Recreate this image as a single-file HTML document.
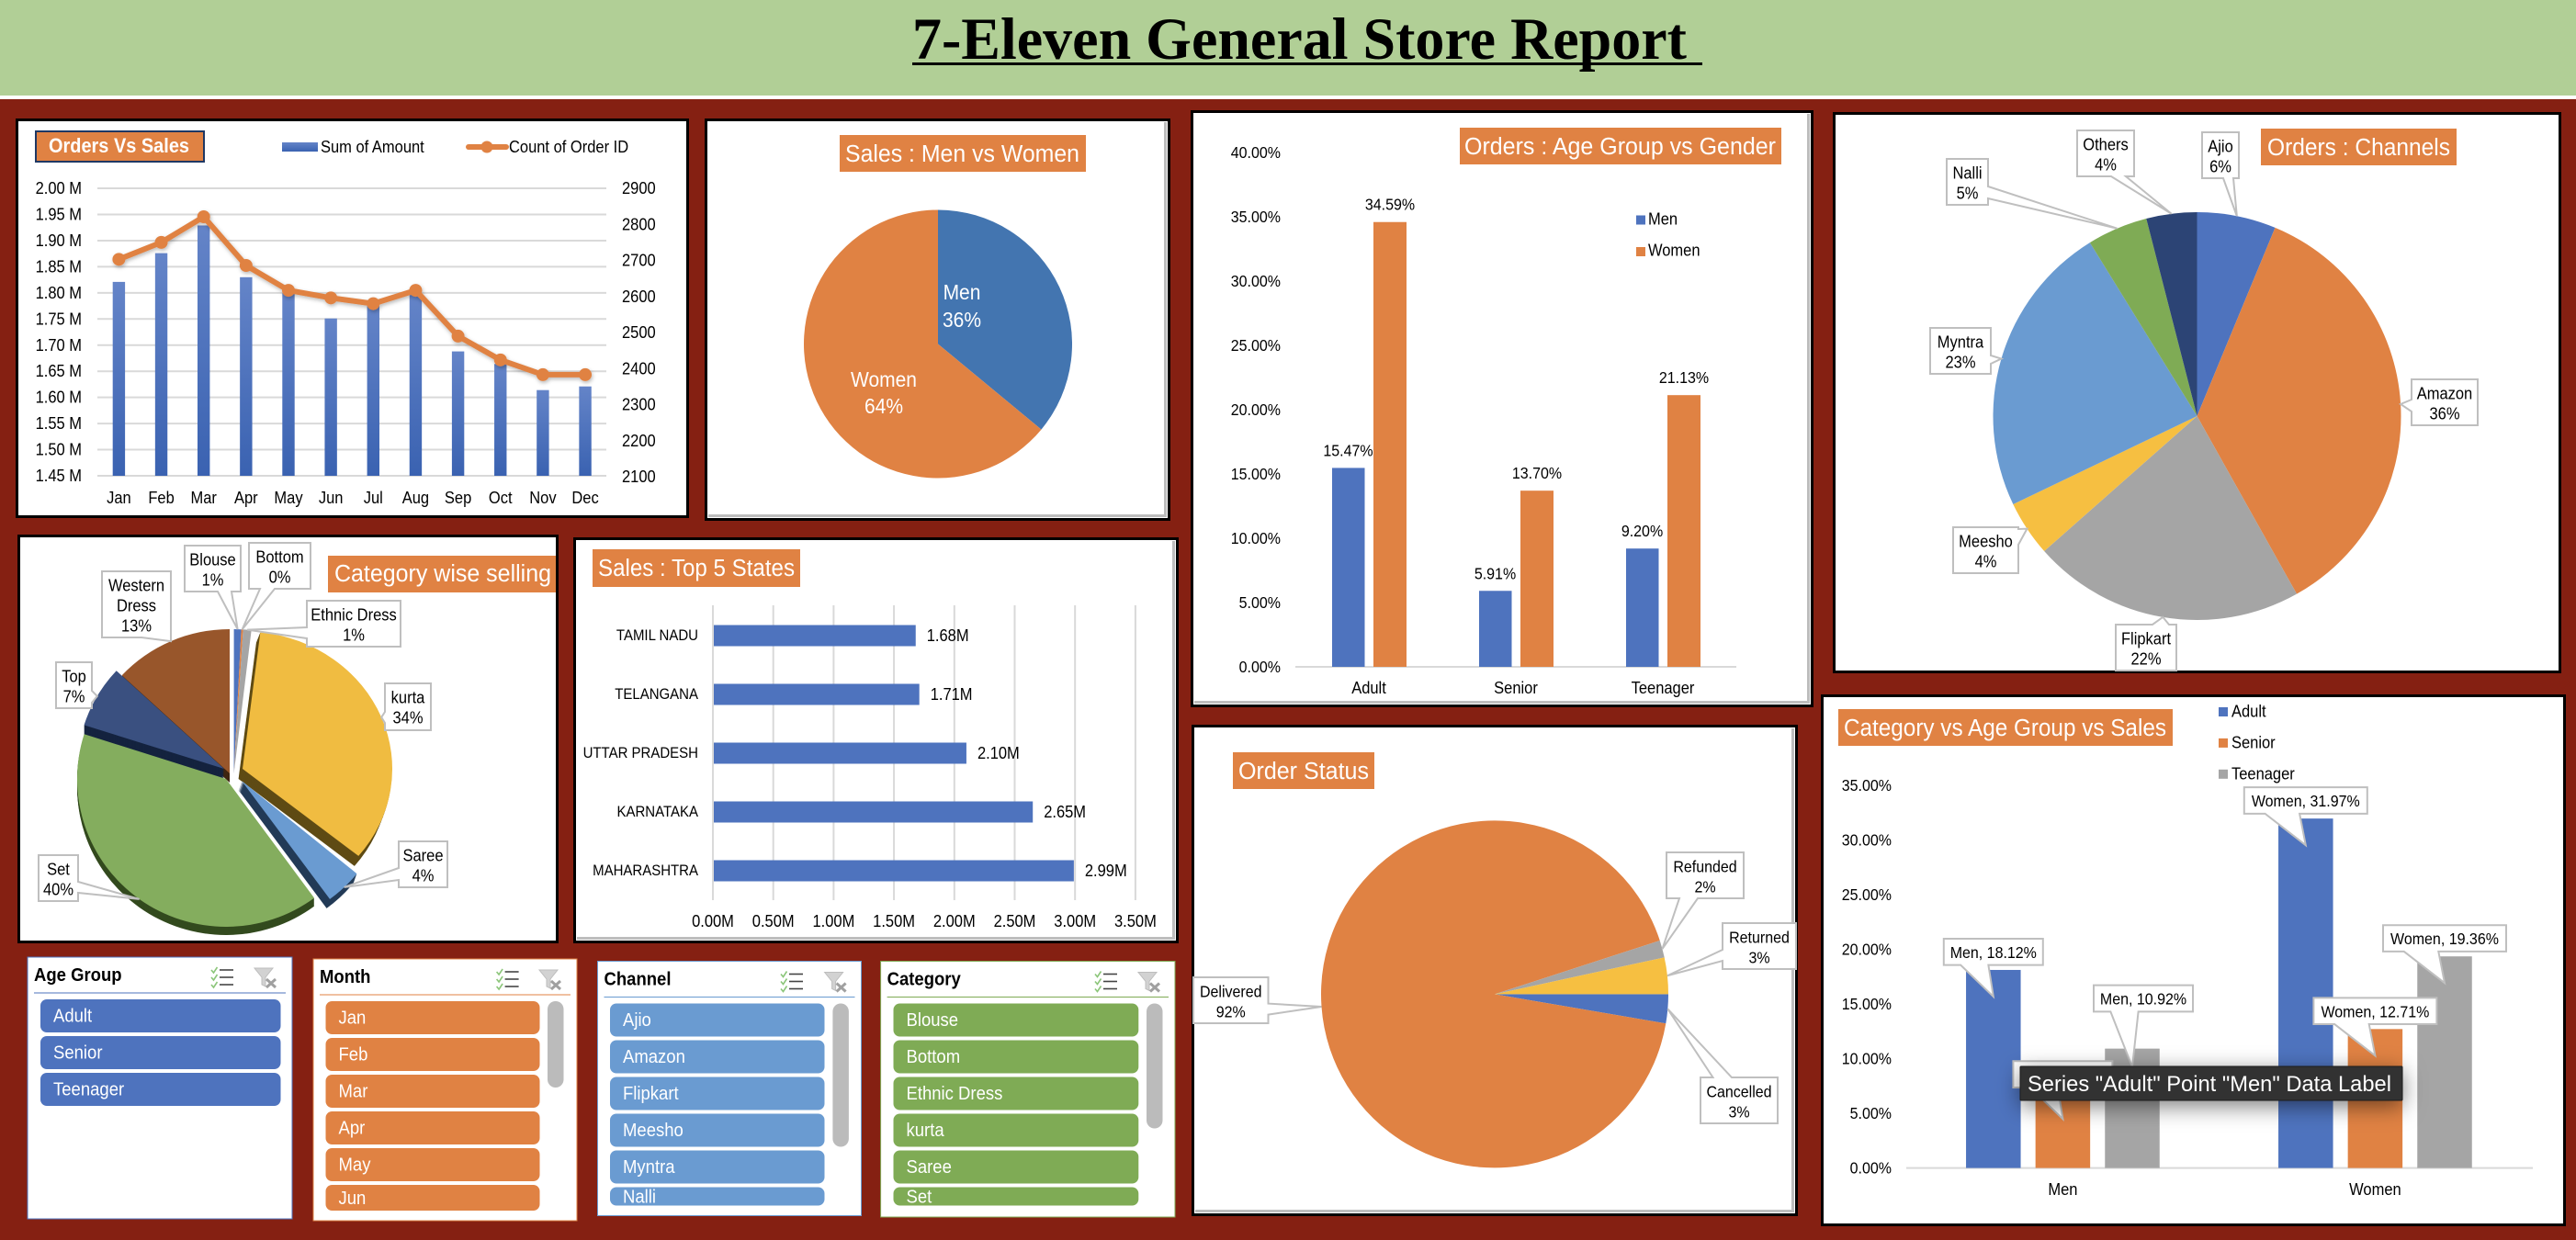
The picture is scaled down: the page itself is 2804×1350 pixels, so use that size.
<!DOCTYPE html>
<html lang="en">
<head>
<meta charset="utf-8">
<title>7-Eleven General Store Report</title>
<style>
html,body{margin:0;padding:0;background:#852012;}
svg{display:block;}
text{font-family:"Liberation Sans",sans-serif;fill:#000;}
.ttl{fill:#fff;font-size:25.5px;}
</style>
</head>
<body>
<svg id="dashboard" xmlns="http://www.w3.org/2000/svg" width="2804" height="1350" viewBox="0 0 2804 1350">
<defs>
  <linearGradient id="barGrad" x1="0" y1="0" x2="0" y2="1"><stop offset="0" stop-color="#6484C8"/><stop offset="1" stop-color="#3A62B1"/></linearGradient>
  <filter id="softShadow" x="-10%" y="-20%" width="120%" height="150%"><feDropShadow dx="1" dy="2" stdDeviation="2" flood-color="#000" flood-opacity="0.28"/></filter>
  <filter id="tipShadow" x="-15%" y="-80%" width="130%" height="300%"><feDropShadow dx="0" dy="6" stdDeviation="12" flood-color="#000" flood-opacity="0.5"/></filter>
</defs>

<rect x="0" y="0" width="2804" height="1350" fill="#852012"/>
<rect x="0" y="0" width="2804" height="104" fill="#B1CF96"/>
<rect x="0" y="104" width="2804" height="4" fill="#fff"/>
<text x="993" y="64" font-size="65" font-weight="bold" textLength="843" lengthAdjust="spacingAndGlyphs" style="font-family:'Liberation Serif',serif">7-Eleven General Store Report</text>
<rect x="993" y="68" width="860" height="3" fill="#000"/>

<!-- Orders vs Sales -->
<g>
  <rect x="17" y="129" width="733" height="435" fill="#000"/>
  <rect x="20" y="132" width="727" height="429" fill="#fff"/>
  <rect x="39" y="143" width="183" height="33" fill="#E08243" stroke="#1F3864" stroke-width="2"/>
  <text x="53" y="166" class="ttl" font-weight="bold" style="font-size:22.5px" textLength="153" lengthAdjust="spacingAndGlyphs">Orders Vs Sales</text>
  <g id="ordersChart"></g>
</g>

<!-- Men vs Women -->
<g>
  <rect x="767" y="129" width="507" height="438" fill="#000"/>
  <rect x="770" y="132" width="501" height="432" fill="#fff"/>
  <rect x="1267" y="133" width="3" height="430" fill="#BDBDBD"/>
  <rect x="771" y="560" width="499" height="3" fill="#BDBDBD"/>
  <rect x="914" y="147" width="268" height="40" fill="#E08243"/>
  <text x="920" y="176" class="ttl" textLength="255" lengthAdjust="spacingAndGlyphs">Sales : Men vs Women</text>
  <g id="genderChart"></g>
</g>

<!-- Age group vs gender -->
<g>
  <rect x="1296" y="120" width="678" height="650" fill="#000"/>
  <rect x="1299" y="123" width="672" height="644" fill="#fff"/>
  <rect x="1967" y="124" width="3" height="642" fill="#BDBDBD"/>
  <rect x="1300" y="763" width="670" height="3" fill="#BDBDBD"/>
  <rect x="1589" y="139" width="350" height="40" fill="#E08243"/>
  <text x="1594" y="168" class="ttl" textLength="339" lengthAdjust="spacingAndGlyphs">Orders : Age Group vs Gender</text>
  <g id="ageGenderChart"></g>
</g>

<!-- Channels -->
<g>
  <rect x="1995" y="122" width="793" height="611" fill="#000"/>
  <rect x="1998" y="125" width="787" height="605" fill="#fff"/>
  <g id="channelChart"></g>
  <rect x="2461" y="140" width="213" height="40" fill="#E08243"/>
  <text x="2468" y="169" class="ttl" textLength="199" lengthAdjust="spacingAndGlyphs">Orders : Channels</text>
</g>

<!-- Category wise selling -->
<g>
  <rect x="19" y="582" width="589" height="445" fill="#000"/>
  <rect x="22" y="585" width="583" height="439" fill="#fff"/>
  <g id="categoryChart"></g>
  <rect x="357" y="605" width="248" height="40" fill="#E08243"/>
  <text x="364" y="633" class="ttl" textLength="236" lengthAdjust="spacingAndGlyphs">Category wise selling</text>
</g>

<!-- Top 5 states -->
<g>
  <rect x="624" y="585" width="659" height="442" fill="#000"/>
  <rect x="627" y="588" width="653" height="436" fill="#fff"/>
  <rect x="1276" y="589" width="3" height="434" fill="#BDBDBD"/>
  <rect x="628" y="1020" width="651" height="3" fill="#BDBDBD"/>
  <rect x="645" y="598" width="226" height="41" fill="#E08243"/>
  <text x="651" y="627" class="ttl" textLength="214" lengthAdjust="spacingAndGlyphs">Sales : Top 5 States</text>
  <g id="statesChart"></g>
</g>

<!-- Order status -->
<g>
  <rect x="1297" y="789" width="660" height="535" fill="#000"/>
  <rect x="1300" y="792" width="654" height="529" fill="#fff"/>
  <rect x="1950" y="793" width="3" height="527" fill="#BDBDBD"/>
  <rect x="1301" y="1317" width="652" height="3" fill="#BDBDBD"/>
  <rect x="1342" y="819" width="154" height="40" fill="#E08243"/>
  <text x="1348" y="848" class="ttl" textLength="142" lengthAdjust="spacingAndGlyphs">Order Status</text>
  <g id="statusChart"></g>
</g>

<!-- Category vs age group vs sales -->
<g>
  <rect x="1982" y="756" width="811" height="579" fill="#000"/>
  <rect x="1985" y="759" width="805" height="573" fill="#fff"/>
  <rect x="2001" y="772" width="364" height="40" fill="#E08243"/>
  <text x="2007" y="801" class="ttl" textLength="351" lengthAdjust="spacingAndGlyphs">Category vs Age Group vs Sales</text>
  <g id="salesAgeChart"></g>
  <g>
    <rect x="2199" y="1161" width="416" height="37" rx="1" fill="#333" stroke="#1c1c1c" filter="url(#tipShadow)"/>
    <text x="2207" y="1188" font-size="24" textLength="396" lengthAdjust="spacingAndGlyphs" style="fill:#fff">Series "Adult" Point "Men" Data Label</text>
  </g>
</g>

<g id="slicers"></g>

<script>
// ---------- chart data ----------
const months = ['Jan','Feb','Mar','Apr','May','Jun','Jul','Aug','Sep','Oct','Nov','Dec'];
const monthlyAmount = [1.821,1.876,1.929,1.830,1.800,1.751,1.775,1.796,1.688,1.664,1.614,1.621];
const monthlyOrders = [2703,2750,2821,2686,2617,2596,2580,2617,2490,2424,2383,2383];
const amountTicks = [1.45,1.50,1.55,1.60,1.65,1.70,1.75,1.80,1.85,1.90,1.95,2.00];
const orderTicks = [2100,2200,2300,2400,2500,2600,2700,2800,2900];

const genderNames = ['Men','Women'];
const genderShare = [36,64];

const ageGroups = ['Adult','Senior','Teenager'];
const menOrders = [15.47,5.91,9.20];
const womenOrders = [34.59,13.70,21.13];
const orderShareTicks = [0,5,10,15,20,25,30,35,40];

const channels = ['Ajio','Amazon','Flipkart','Meesho','Myntra','Nalli','Others'];
const channelShare = [6.25,35.6,21.6,4.4,23.3,4.8,4.0];

const categories = ['Blouse','Bottom','Ethnic Dress','kurta','Saree','Set','Top','Western Dress'];
const categoryShare = [0.8,0.2,0.9,34,4,40,7,13.1];

const states = ['TAMIL NADU','TELANGANA','UTTAR PRADESH','KARNATAKA','MAHARASHTRA'];
const stateSales = [1.68,1.71,2.10,2.65,2.99];
const stateTicks = [0,0.5,1,1.5,2,2.5,3,3.5];

const statuses = ['Cancelled','Delivered','Refunded','Returned'];
const statusShare = [2.7,92.3,1.6,3.4];

const genders = ['Men','Women'];
const ageSeries = ['Adult','Senior','Teenager'];
const adultSales = [18.12,31.97];
const seniorSales = [6.92,12.71];
const teenSales = [10.92,19.36];
const salesShareTicks = [0,5,10,15,20,25,30,35];

const ageSlicerItems = ['Adult','Senior','Teenager'];
const monthSlicerItems = ['Jan','Feb','Mar','Apr','May','Jun'];
const channelSlicerItems = ['Ajio','Amazon','Flipkart','Meesho','Myntra','Nalli'];
const categorySlicerItems = ['Blouse','Bottom','Ethnic Dress','kurta','Saree','Set'];

// ---------- helpers ----------
const NS = 'http://www.w3.org/2000/svg';
const BLUE = '#4E73BE', ORANGE = '#E08243', GREY = '#A5A5A5', GRID = '#D9D9D9';
const CONDENSE = 1.12;

function mk(parent, tag, attrs, name, interactive) {
  const el = document.createElementNS(NS, tag);
  for (const k in attrs) el.setAttribute(k, attrs[k]);
  
  
  parent.appendChild(el);
  return el;
}
function label(parent, x, y, str, size, name, opts) {
  const o = opts || {};
  const el = mk(parent, 'text', {x: x, y: y, 'font-size': size * CONDENSE, 'text-anchor': o.anchor || 'start'}, name, false);
  if (o.weight) el.setAttribute('font-weight', o.weight);
  if (o.fill) el.style.fill = o.fill;
  el.textContent = str;
  const natural = el.getComputedTextLength();
  if (natural > 0) {
    el.setAttribute('textLength', natural / CONDENSE);
    el.setAttribute('lengthAdjust', 'spacingAndGlyphs');
  }
  return el;
}
function pieAngles(values, startDeg) {
  const total = values.reduce((a, b) => a + b, 0);
  let cur = startDeg;
  return values.map(v => {
    const sweep = v / total * 360;
    const s = {start: cur, end: cur + sweep, mid: cur + sweep / 2};
    cur += sweep;
    return s;
  });
}
function polar(cx, cy, rx, ry, deg) {
  const a = deg * Math.PI / 180;
  return [cx + rx * Math.sin(a), cy - ry * Math.cos(a)];
}
function arcPath(cx, cy, rx, ry, a0, a1) {
  const p0 = polar(cx, cy, rx, ry, a0), p1 = polar(cx, cy, rx, ry, a1);
  const large = a1 - a0 > 180 ? 1 : 0;
  return 'M' + cx + ' ' + cy + ' L' + p0[0] + ' ' + p0[1] + ' A' + rx + ' ' + ry + ' 0 ' + large + ' 1 ' + p1[0] + ' ' + p1[1] + ' Z';
}
function calloutPath(x, y, w, h, side, a, b, tip) {
  const x1 = x + w, y1 = y + h, t = tip[0] + ' ' + tip[1];
  if (side === 'top') return `M${x} ${y} L${a} ${y} L${t} L${b} ${y} L${x1} ${y} L${x1} ${y1} L${x} ${y1} Z`;
  if (side === 'bottom') return `M${x} ${y} L${x1} ${y} L${x1} ${y1} L${b} ${y1} L${t} L${a} ${y1} L${x} ${y1} Z`;
  if (side === 'right') return `M${x} ${y} L${x1} ${y} L${x1} ${a} L${t} L${x1} ${b} L${x1} ${y1} L${x} ${y1} Z`;
  return `M${x} ${y} L${x1} ${y} L${x1} ${y1} L${x} ${y1} L${x} ${b} L${t} L${x} ${a} Z`;
}
function pieCallout(parent, box, tip, lines, size, slug) {
  mk(parent, 'path', {d: calloutPath(box[0], box[1], box[2], box[3], box[4], box[5], box[6], tip), fill: '#fff', stroke: '#BFBFBF', 'stroke-width': 2}, slug + '-callout', false);
  lines.forEach((ln, i) => {
    label(parent, box[0] + box[2] / 2, box[1] + 21.5 + i * 22, ln, size, slug + '-label', {anchor: 'middle'});
  });
}
function slug(s) { return s.toLowerCase().replace(/[^a-z0-9]+/g, '-'); }

// ---------- Orders vs Sales ----------
(function () {
  const g = document.getElementById('ordersChart');
  const yL = v => 518 - (v - 1.45) / 0.05 * 28.45;
  const yR = v => 519 - (v - 2100) * 0.3925;
  const xC = i => 129.4 + i * 46.15;
  amountTicks.forEach(t => {
    mk(g, 'line', {x1: 106, x2: 660, y1: yL(t), y2: yL(t), stroke: GRID, 'stroke-width': 2}, 'gridline', false);
    label(g, 89, yL(t) + 6, t.toFixed(2) + ' M', 16.5, 'left-axis-tick', {anchor: 'end'});
  });
  orderTicks.forEach(t => {
    label(g, 677, yR(t) + 6, String(t), 16.5, 'right-axis-tick');
  });
  months.forEach((m, i) => {
    label(g, xC(i), 548, m, 16.5, 'month-tick', {anchor: 'middle'});
  });
  monthlyAmount.forEach((v, i) => {
    mk(g, 'rect', {x: xC(i) - 6.7, y: yL(v), width: 13.4, height: 518 - yL(v), fill: 'url(#barGrad)'}, 'amount-bar-' + slug(months[i]), false);
  });
  const pts = monthlyOrders.map((v, i) => xC(i) + ',' + yR(v)).join(' ');
  const series = mk(g, 'g', {filter: 'url(#softShadow)'}, 'order-count-series', false);
  mk(series, 'polyline', {points: pts, fill: 'none', stroke: ORANGE, 'stroke-width': 6, 'stroke-linejoin': 'round'}, 'order-count-line', false);
  monthlyOrders.forEach((v, i) => {
    mk(series, 'circle', {cx: xC(i), cy: yR(v), r: 7, fill: ORANGE}, 'order-count-point-' + slug(months[i]), false);
  });
  mk(g, 'rect', {x: 307, y: 155, width: 39, height: 10, fill: 'url(#barGrad)'}, 'legend-swatch-amount', false);
  label(g, 349, 166, 'Sum of Amount', 16.5, 'legend-label-amount');
  mk(g, 'line', {x1: 510, x2: 551, y1: 160, y2: 160, stroke: ORANGE, 'stroke-width': 6, 'stroke-linecap': 'round'}, 'legend-swatch-orders-line', false);
  mk(g, 'circle', {cx: 530, cy: 160, r: 6.5, fill: ORANGE}, 'legend-swatch-orders-marker', false);
  label(g, 554, 166, 'Count of Order ID', 16.5, 'legend-label-orders');
})();

// ---------- Men vs Women pie ----------
(function () {
  const g = document.getElementById('genderChart');
  const cx = 1021, cy = 374.5, r = 146;
  const fills = ['#4375B0', ORANGE];
  const layout = [[1047, 326, 356], [962, 421, 450]];
  pieAngles(genderShare, 0).forEach((s, i) => {
    mk(g, 'path', {d: arcPath(cx, cy, r, r, s.start, s.end), fill: fills[i]}, 'slice-' + slug(genderNames[i]), false);
  });
  genderNames.forEach((n, i) => {
    label(g, layout[i][0], layout[i][1], n, 21, 'slice-label-' + slug(n), {anchor: 'middle', fill: '#fff'});
    label(g, layout[i][0], layout[i][2], genderShare[i] + '%', 21, 'slice-value-' + slug(n), {anchor: 'middle', fill: '#fff'});
  });
})();

// ---------- Age group vs Gender ----------
(function () {
  const g = document.getElementById('ageGenderChart');
  const y = v => 726 - v * 14;
  const xC = i => 1490 + i * 160;
  orderShareTicks.forEach(t => {
    label(g, 1394, y(t) + 6, t.toFixed(2) + '%', 16, 'y-axis-tick', {anchor: 'end'});
  });
  mk(g, 'line', {x1: 1410, x2: 1890, y1: 726, y2: 726, stroke: GRID, 'stroke-width': 2}, 'x-axis-line', false);
  ageGroups.forEach((c, i) => {
    label(g, xC(i), 755, c, 16.5, 'x-axis-tick', {anchor: 'middle'});
    mk(g, 'rect', {x: xC(i) - 40, y: y(menOrders[i]), width: 35.5, height: menOrders[i] * 14, fill: BLUE}, 'men-bar-' + slug(c), false);
    mk(g, 'rect', {x: xC(i) + 5, y: y(womenOrders[i]), width: 36, height: womenOrders[i] * 14, fill: ORANGE}, 'women-bar-' + slug(c), false);
    label(g, xC(i) - 22.5, y(menOrders[i]) - 13, menOrders[i].toFixed(2) + '%', 16, 'men-value-' + slug(c), {anchor: 'middle'});
    label(g, xC(i) + 23, y(womenOrders[i]) - 13, womenOrders[i].toFixed(2) + '%', 16, 'women-value-' + slug(c), {anchor: 'middle'});
  });
  mk(g, 'rect', {x: 1781, y: 234.5, width: 10, height: 10, fill: BLUE}, 'legend-swatch-men', false);
  label(g, 1794, 244.5, 'Men', 16.5, 'legend-label-men');
  mk(g, 'rect', {x: 1781, y: 269, width: 10, height: 10, fill: ORANGE}, 'legend-swatch-women', false);
  label(g, 1794, 278.5, 'Women', 16.5, 'legend-label-women');
})();

// ---------- Channels pie ----------
(function () {
  const g = document.getElementById('channelChart');
  const cx = 2391.5, cy = 453, r = 222;
  const fills = [BLUE, ORANGE, GREY, '#F6BF41', '#6A9BD1', '#7FAB55', '#2C4475'];
  const boxes = [
    [2397, 144, 40, 50, 'bottom', 2420, 2431],
    [2625, 413, 72, 50, 'left', 435, 448],
    [2303, 680, 66, 50, 'top', 2343, 2361],
    [2126, 574, 71, 50, 'right', 576, 593],
    [2101, 357, 66, 50, 'right', 387, 396],
    [2119, 173, 45, 50, 'right', 203, 216],
    [2261, 142, 62, 50, 'bottom', 2298, 2314]
  ];
  const angles = pieAngles(channelShare, 0);
  angles.forEach((s, i) => {
    mk(g, 'path', {d: arcPath(cx, cy, r, r, s.start, s.end), fill: fills[i]}, 'slice-' + slug(channels[i]), false);
  });
  angles.forEach((s, i) => {
    const tip = polar(cx, cy, r, r, s.mid);
    pieCallout(g, boxes[i], tip, [channels[i], Math.round(channelShare[i]) + '%'], 16.5, slug(channels[i]));
  });
})();

// ---------- Category 3D pie ----------
(function () {
  const g = document.getElementById('categoryChart');
  const faces = [BLUE, ORANGE, GREY, '#F0BC41', '#6A9BD1', '#84AD5E', '#3A5080', '#98562B'];
  const sides = ['#2C4475', '#7A4520', '#5E5E5E', '#5F4B14', '#233B57', '#334A1E', '#14233F', '#3F2410'];
  const apex = [
    [254.6, 842, 160, 157], [254.6, 842, 160, 157], [254.6, 842, 160, 157],
    [264, 837, 163, 150], [263, 850, 162, 160], [246, 848, 162, 161],
    [244, 837, 160, 157], [250, 842, 160, 157]
  ];
  const depthOf = [0, 0, 0, 11, 10, 9, 12, 10];
  const driftOf = [0, 0, 0, -0.4, -0.35, 0, 0, 0];
  const boxes = [
    [201, 594, 61, 50, 'bottom', 237, 252],
    [271, 591, 67, 50, 'bottom', 283, 299],
    [334, 654, 102, 50, 'left', 683, 695],
    [419, 744, 50, 51, 'left', 775, 787],
    [434, 916, 53, 50, 'left', 945, 958],
    [42, 931, 43, 50, 'right', 960, 972],
    [61, 721, 39, 50, 'right', 752, 765],
    [111, 622, 75, 72, 'bottom', 154, 186]
  ];
  const order = [7, 6, 3, 4, 0, 1, 2, 5];
  const angles = pieAngles(categoryShare, 0);
  order.forEach(i => {
    const s = angles[i], a = apex[i], nm = slug(categories[i]);
    for (let d = depthOf[i]; d >= 1; d--) {
      mk(g, 'path', {d: arcPath(a[0] + d * driftOf[i], a[1] + d, a[2], a[3], s.start, s.end), fill: sides[i]}, 'slice-side-' + nm, false);
    }
    mk(g, 'path', {d: arcPath(a[0], a[1], a[2], a[3], s.start, s.end), fill: faces[i]}, 'slice-' + nm, false);
  });
  angles.forEach((s, i) => {
    const a = apex[i], b = boxes[i];
    const tip = polar(a[0], a[1], a[2], a[3], s.mid);
    const nameLines = b[3] > 60 ? categories[i].split(' ') : [categories[i]];
    pieCallout(g, b, tip, nameLines.concat(Math.round(categoryShare[i]) + '%'), 16.5, slug(categories[i]));
  });
})();

// ---------- Top 5 states ----------
(function () {
  const g = document.getElementById('statesChart');
  const x = v => 776 + v * 131.4;
  const yC = i => 692 + i * 64;
  stateTicks.forEach(t => {
    mk(g, 'line', {x1: x(t), x2: x(t), y1: 659, y2: 980, stroke: GRID, 'stroke-width': 2}, 'gridline', false);
    label(g, x(t), 1009, t.toFixed(2) + 'M', 16.5, 'x-axis-tick', {anchor: 'middle'});
  });
  states.forEach((s, i) => {
    mk(g, 'rect', {x: x(0) + 1, y: yC(i) - 11.5, width: x(stateSales[i]) - x(0) - 1, height: 23, fill: BLUE}, 'state-bar-' + slug(s), false);
    label(g, 760, yC(i) + 5, s, 15, 'state-label-' + slug(s), {anchor: 'end'});
    label(g, x(stateSales[i]) + 12, yC(i) + 6, stateSales[i].toFixed(2) + 'M', 16.5, 'state-value-' + slug(s));
  });
})();

// ---------- Order status pie ----------
(function () {
  const g = document.getElementById('statusChart');
  const cx = 1627, cy = 1082.4, r = 189;
  const fills = [BLUE, ORANGE, GREY, '#F6BF41'];
  const boxes = [
    [1851, 1173, 84, 50, 'top', 1864.5, 1885],
    [1299, 1064, 81.5, 50, 'right', 1092.6, 1104.6],
    [1814, 928, 84, 50, 'bottom', 1828, 1848],
    [1875, 1005, 80, 50, 'left', 1034, 1046]
  ];
  const angles = pieAngles(statusShare, 90);
  angles.forEach((s, i) => {
    mk(g, 'path', {d: arcPath(cx, cy, r, r, s.start, s.end), fill: fills[i]}, 'slice-' + slug(statuses[i]), false);
  });
  angles.forEach((s, i) => {
    const tip = polar(cx, cy, r, r, s.mid);
    pieCallout(g, boxes[i], tip, [statuses[i], Math.round(statusShare[i]) + '%'], 16, slug(statuses[i]));
  });
})();

// ---------- Gender / Age / Sales bars ----------
(function () {
  const g = document.getElementById('salesAgeChart');
  const y = v => 1271.6 - v * 11.9;
  const xC = i => 2245.4 + i * 340;
  const fills = [BLUE, ORANGE, GREY];
  const seriesValues = [adultSales, seniorSales, teenSales];
  const boxShiftX = [[0, 0], [0, 0], [12, 0]];
  const boxShiftY = [[0, 0], [0, 0], [-35, 0]];
  salesShareTicks.forEach(t => {
    label(g, 2059, y(t) + 6, t.toFixed(2) + '%', 16, 'y-axis-tick', {anchor: 'end'});
  });
  mk(g, 'line', {x1: 2075, x2: 2757, y1: 1271.6, y2: 1271.6, stroke: GRID, 'stroke-width': 2}, 'x-axis-line', false);
  genders.forEach((c, i) => {
    label(g, xC(i), 1301, c, 16.5, 'x-axis-tick', {anchor: 'middle'});
  });
  seriesValues.forEach((vals, s) => {
    vals.forEach((v, i) => {
      const cx = xC(i) + (s - 1) * 75.6;
      mk(g, 'rect', {x: cx - 29.75, y: y(v), width: 59.5, height: v * 11.9, fill: fills[s]}, slug(ageSeries[s]) + '-bar-' + slug(genders[i]), false);
    });
  });
  seriesValues.forEach((vals, s) => {
    vals.forEach((v, i) => {
      const cx = xC(i) + (s - 1) * 75.6;
      const text = genders[i] + ', ' + v.toFixed(2) + '%';
      const w = i === 0 ? 108 : 134, h = 28.7;
      const bc = cx + boxShiftX[s][i];
      const bx = bc - w / 2, by = y(v) - 34 + boxShiftY[s][i];
      const d = calloutPath(bx, by, w, h, 'bottom', bx + 0.17 * w, bx + 0.45 * w, [cx, y(v) + 20 - boxShiftY[s][i] * 0 + (boxShiftY[s][i] === 0 ? 9 : 0)]);
      mk(g, 'path', {d: d, fill: '#fff', stroke: '#BFBFBF', 'stroke-width': 2}, slug(ageSeries[s]) + '-callout-' + slug(genders[i]), false);
      label(g, bc, by + 21, text, 16, slug(ageSeries[s]) + '-value-' + slug(genders[i]), {anchor: 'middle'});
    });
  });
  ageSeries.forEach((n, s) => {
    const ly = 770 + s * 33.9;
    mk(g, 'rect', {x: 2415, y: ly, width: 10, height: 10, fill: fills[s]}, 'legend-swatch-' + slug(n), false);
    label(g, 2429, ly + 10.5, n, 16.5, 'legend-label-' + slug(n));
  });
})();

// ---------- Slicers ----------
function drawSlicer(title, items, c) {
  const root = document.getElementById('slicers');
  const g = mk(root, 'g', {}, slug(title) + '-slicer', false);
  mk(g, 'rect', {x: c.x, y: c.y, width: c.w, height: c.h, fill: '#fff', stroke: c.color, 'stroke-width': 1}, 'slicer-background', false);
  label(g, c.x + 7, c.y + 26, title, 18.5, 'slicer-title', {weight: 'bold'});
  mk(g, 'line', {x1: c.x + 7, x2: c.x + c.w - 7, y1: c.y + 39, y2: c.y + 39, stroke: c.color, 'stroke-width': 1}, 'slicer-divider', false);

  const ms = mk(g, 'g', {transform: 'translate(' + c.iconA + ',' + (c.y + 11) + ')'}, 'multi-select-button', true);
  [3, 11, 19].forEach(dy => {
    mk(ms, 'line', {x1: 9, x2: 24, y1: dy, y2: dy, stroke: '#444', 'stroke-width': 1.6}, 'multi-select-line', false);
    mk(ms, 'polyline', {points: '0,' + dy + ' 2.5,' + (dy + 3) + ' 6.5,' + (dy - 3), fill: 'none', stroke: '#8CC67A', 'stroke-width': 1.6}, 'multi-select-check', false);
  });
  const cf = mk(g, 'g', {transform: 'translate(' + c.iconB + ',' + (c.y + 11) + ')'}, 'clear-filter-button', true);
  mk(cf, 'path', {d: 'M0 1 H20 L12 11 V21 L8 19 V11 Z', fill: '#D2D2D2', stroke: '#BDBDBD', 'stroke-width': 1}, 'clear-filter-funnel', false);
  mk(cf, 'path', {d: 'M13 13 L23 22 M23 13 L13 22', fill: 'none', stroke: '#A0A0A0', 'stroke-width': 3}, 'clear-filter-cross', false);

  items.forEach((it, i) => {
    const last = c.lastH && i === items.length - 1;
    const h = last ? c.lastH : 36;
    const top = c.y + 46 + i * 40;
    const bl = last ? top + c.lastBase : top + 24.5;
    mk(g, 'rect', {x: c.itemX, y: top, width: c.itemW, height: h, rx: 7, fill: c.color}, 'slicer-item-' + slug(it), true);
    label(g, c.itemX + 14, bl, it, 18.5, 'slicer-item-label-' + slug(it), {fill: '#fff'});
  });
  if (c.scrollH) {
    mk(g, 'rect', {x: c.scrollX, y: c.y + 46, width: 17.5, height: c.scrollH, rx: 8.7, fill: '#BBBBBB'}, 'slicer-scrollbar', true);
  }
}
drawSlicer('Age Group', ageSlicerItems, {x: 30, y: 1042, w: 288, h: 285, color: '#4E73BE', itemX: 44, itemW: 261.5, iconA: 230, iconB: 277});
drawSlicer('Month', monthSlicerItems, {x: 341, y: 1044, w: 287, h: 285, color: '#E08243', itemX: 354.5, itemW: 233, iconA: 540.6, iconB: 587, lastH: 28, lastBase: 21, scrollX: 596, scrollH: 94});
drawSlicer('Channel', channelSlicerItems, {x: 650.5, y: 1046.5, w: 287, h: 277, color: '#6A9BD1', itemX: 664, itemW: 233.5, iconA: 850, iconB: 897.6, lastH: 20, lastBase: 17, scrollX: 906.4, scrollH: 156});
drawSlicer('Category', categorySlicerItems, {x: 958.6, y: 1046.5, w: 320.4, h: 278.5, color: '#7FAB55', itemX: 972.5, itemW: 266.8, iconA: 1192, iconB: 1239, lastH: 20, lastBase: 17, scrollX: 1248, scrollH: 136});
</script>
</svg>
</body>
</html>
